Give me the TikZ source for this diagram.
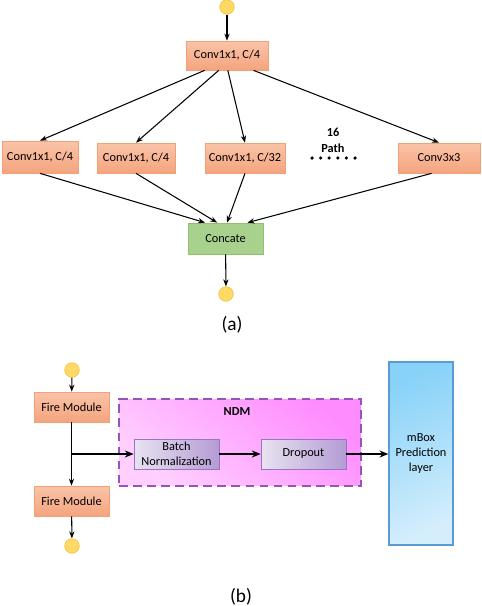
\documentclass[tikz,border=0pt]{standalone}
\usepackage{fontspec}
\setmainfont{Carlito}
\usetikzlibrary{calc,arrows.meta}
\definecolor{convtop}{HTML}{FAC4A8}
\definecolor{convbot}{HTML}{F4A47F}
\definecolor{convline}{HTML}{F2A075}
\definecolor{catfill}{HTML}{A9D18E}
\definecolor{catline}{HTML}{8FC16E}
\definecolor{dotfill}{HTML}{FFD966}
\definecolor{dotline}{HTML}{F5C242}
\definecolor{ndmlight}{HTML}{FFD0FF}
\definecolor{ndmdark}{HTML}{FF8CFF}
\definecolor{ndmline}{HTML}{9454B8}
\definecolor{bnlight}{HTML}{E8E2F0}
\definecolor{bndark}{HTML}{B49CD4}
\definecolor{bnline}{HTML}{9874C4}
\definecolor{mboxdark}{HTML}{88D2F8}
\definecolor{mboxlight}{HTML}{D4EEFC}
\definecolor{mboxline}{HTML}{5B9BD5}
\tikzset{
  conv/.style={draw=convline, top color=convtop, bottom color=convbot, inner sep=0pt,
    minimum height=0.6cm, font=\fontsize{7}{8.5}\selectfont},
  cat/.style={draw=catline, fill=catfill, inner sep=0pt, minimum width=1.5cm,
    minimum height=0.62cm, font=\fontsize{7}{8.5}\selectfont},
  io/.style={circle, draw=dotline, fill=dotfill, inner sep=0pt, minimum size=0.29cm},
  bnbox/.style={draw=bnline, left color=bnlight, right color=bndark, inner sep=0pt,
    minimum width=1.7cm, minimum height=0.6cm, align=center, font=\fontsize{7}{8.5}\selectfont},
  lnk/.style={-{Stealth[length=4pt,width=3pt]}, line width=0.6pt},
  thk/.style={-{Stealth[length=5pt,width=4pt]}, line width=1.1pt},
}
\begin{document}
\begin{tikzpicture}[x=0.02cm,y=-0.02cm]
\useasboundingbox (0,0) rectangle (482,606);
% (a)
\node[io] (in) at (227,7) {};
\node[conv, minimum width=1.64cm, minimum height=0.58cm] (top) at (227,55.5) {Conv1x1, C/4};
\node[conv, minimum width=1.52cm, minimum height=0.64cm] (c1) at (40,157) {Conv1x1, C/4};
\node[conv, minimum width=1.56cm] (c2) at (136,158) {Conv1x1, C/4};
\node[conv, minimum width=1.6cm] (c3) at (245,158) {Conv1x1, C/32};
\node[conv, minimum width=1.64cm] (c4) at (439,158) {Conv3x3};
\node[font=\bfseries\fontsize{7}{9}\selectfont, align=center] (np) at (333,140) {16\\Path};
\foreach \k in {0,...,5}{\fill (312+\k*8.6,158) circle (1pt);}
\node[cat] (cat) at (225.5,238.5) {Concate};
\node[io] (out) at (226,294) {};
\draw[lnk] (in) -- (top);
\foreach \s/\t in {0.23/c1,0.40/c2,0.51/c3,0.82/c4}{
  \draw[lnk] ($(top.south west)!\s!(top.south east)$) -- (\t.north);}
\foreach \t/\f in {c1/0.23,c2/0.39,c3/0.52}{
  \draw[lnk] (\t.south) -- ($(cat.north west)!\f!(cat.north east)$);}
\draw[lnk] ($(c4.south west)!0.41!(c4.south east)$) -- ($(cat.north west)!0.79!(cat.north east)$);
\draw[lnk] (cat) -- (out);
\node[font=\fontsize{11}{13}\selectfont] (la) at (232,325) {(a)};
% (b)
\node[draw=ndmline, dashed, line width=0.9pt, dash pattern=on 5pt off 3pt,
  top color=ndmdark, bottom color=ndmlight, shading angle=-40,
  minimum width=4.84cm, minimum height=1.74cm, inner sep=0pt] (ndm) at (240,442.5) {};
\node[font=\bfseries\fontsize{7}{8.5}\selectfont] (ndml) at (237,412) {NDM};
\node[io] (bin) at (72,370) {};
\node[conv, minimum width=1.5cm] (f1) at (71.5,407) {Fire Module};
\node[conv, minimum width=1.5cm] (f2) at (71.5,501) {Fire Module};
\node[io] (bout) at (72,546) {};
\node[bnbox] (bn) at (176.5,454) {Batch\\Normalization};
\node[bnbox] (dp) at (303.5,454) {Dropout};
\node[draw=mboxline, line width=0.8pt, top color=mboxdark, bottom color=mboxlight, shading angle=25,
  minimum width=1.28cm, minimum height=3.66cm, inner sep=0pt, align=center,
  font=\fontsize{7}{8.5}\selectfont] (mb) at (421,453.5) {mBox\\Prediction\\layer};
\coordinate (br) at (f1.south |- bn.west);
\draw[lnk] (bin) -- (f1);
\draw[lnk] (f1) -- (f2);
\draw[lnk] (f2) -- (bout);
\draw[thk] (br) -- (bn.west);
\draw[thk] (bn) -- (dp);
\draw[thk] (dp) -- (mb.west |- dp.east);
\node[font=\fontsize{11}{13}\selectfont] (lb) at (241,597) {(b)};
\end{tikzpicture}
\end{document}
